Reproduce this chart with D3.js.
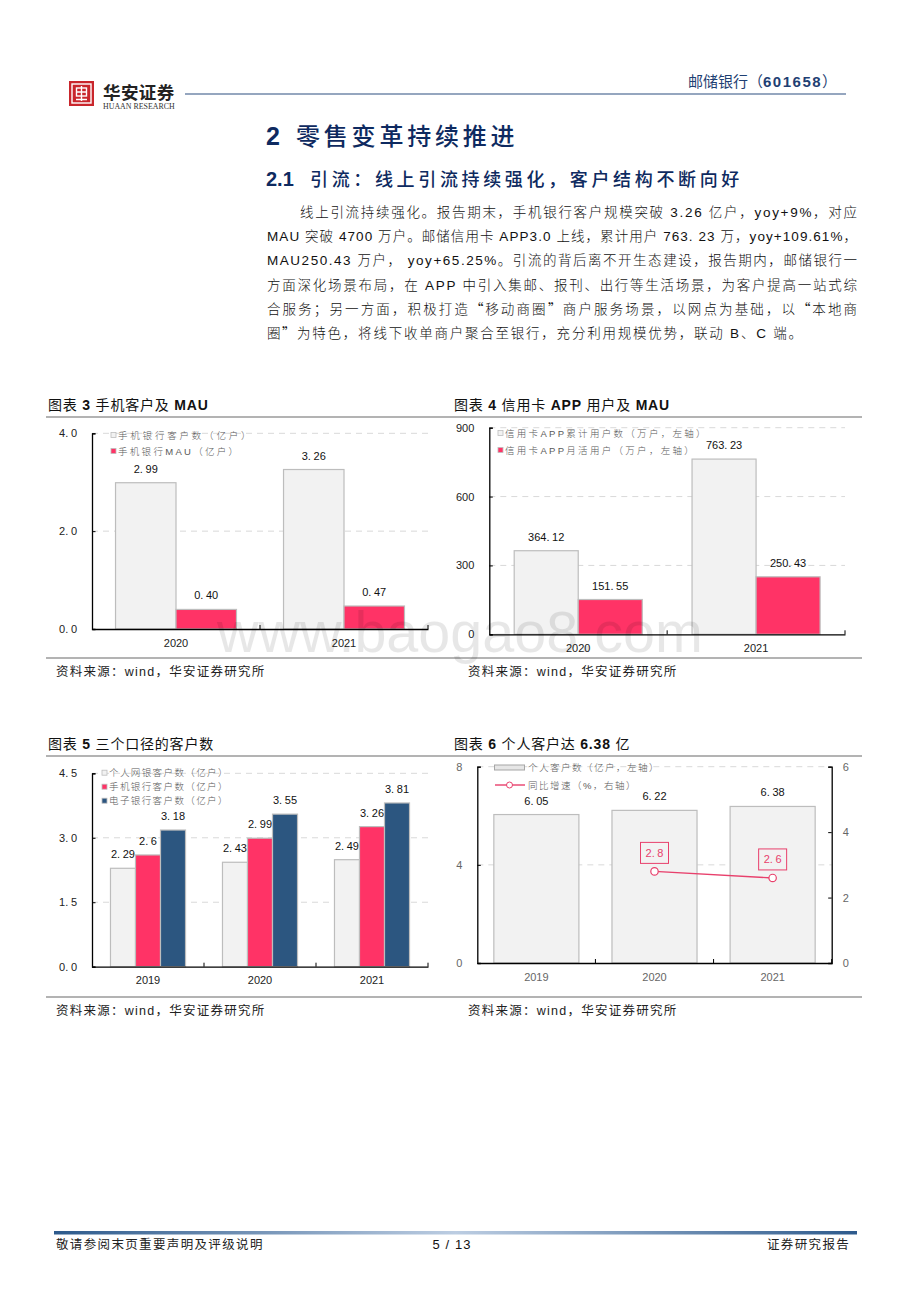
<!DOCTYPE html>
<meta charset="utf-8">
<style>
@font-face { font-family: "FullQuote"; src: local("Noto Sans CJK SC"); unicode-range: U+2018-201D; }
body { margin: 0; background: #fff; }
svg { display: block; }
text { font-family: "FullQuote", "Liberation Sans", "Noto Sans CJK SC", sans-serif; }
.num text, text.num { font-family: "Liberation Sans", sans-serif; font-size: 11px; }
.domain { stroke: #000; stroke-width: 1.3px; }
.tick line { stroke: #000; stroke-width: 1px; }
.grid { stroke: #d9d9d9; stroke-width: 1px; stroke-dasharray: 6 5; }
.legend { font-family: "Liberation Sans Narrow", "Liberation Sans", "Noto Sans CJK SC", sans-serif; font-size: 9.5px; fill: #595959; font-weight: 300; }
.rule { stroke: #9a9a9a; stroke-width: 1.5px; }
.title { font-size: 14px; letter-spacing: 0.8px; fill: #111; }
.source { font-size: 12.5px; letter-spacing: 1.25px; fill: #222; }
.body { font-size: 13.5px; fill: #111; font-weight: 300; }
</style>
<body>
<script src="https://d3js.org/d3.v7.min.js"></script>
<script>

const width = 920;
const height = 1302;

// chart 3
const phoneYears = ["2020", "2021"];
const phoneUsers = [2.99, 3.26];
const phoneMau = [0.40, 0.47];
const phoneTicks = [0, 2, 4];

// chart 4
const cardYears = ["2020", "2021"];
const cardUsers = [364.12, 763.23];
const cardMau = [151.55, 250.43];
const cardTicks = [0, 300, 600, 900];

// chart 5
const threeYears = ["2019", "2020", "2021"];
const webUsers = [2.29, 2.43, 2.49];
const mobileUsers = [2.6, 2.99, 3.26];
const ebankUsers = [3.18, 3.55, 3.81];
const threeTicks = [0, 1.5, 3, 4.5];

// chart 6
const personYears = ["2019", "2020", "2021"];
const personUsers = [6.05, 6.22, 6.38];
const personGrowth = [null, 2.8, 2.6];
const personTicks = [0, 4, 8];
const growthTicks = [0, 2, 4, 6];

// page text
const bodyLines = [
  "线上引流持续强化。报告期末，手机银行客户规模突破 3.26 亿户，yoy+9%，对应",
  "MAU 突破 4700 万户。邮储信用卡 APP3.0 上线，累计用户 763. 23 万，yoy+109.61%，",
  "MAU250.43 万户， yoy+65.25%。引流的背后离不开生态建设，报告期内，邮储银行一",
  "方面深化场景布局，在 APP 中引入集邮、报刊、出行等生活场景，为客户提高一站式综",
  "合服务；另一方面，积极打造“移动商圈”商户服务场景，以网点为基础，以“本地商",
  "圈”为特色，将线下收单商户聚合至银行，充分利用规模优势，联动 B、C 端。"
];
const sourceText = "资料来源：wind，华安证券研究所";

const grey = "#f2f2f2", pink = "#ff3366", navy = "#2c5680", barStroke = "#bdbdbd";

const svg = d3.select("body").append("svg")
    .attr("width", width)
    .attr("height", height);

const defs = svg.append("defs");
const grad = defs.append("linearGradient").attr("id", "footbar");
grad.append("stop").attr("offset", "0%").attr("stop-color", "#2d5a8c");
grad.append("stop").attr("offset", "50%").attr("stop-color", "#bccde2");
grad.append("stop").attr("offset", "100%").attr("stop-color", "#2d5a8c");

// latin runs bold, CJK runs regular
function richText(sel, str) {
  str.split(/([\x21-\x7e]+(?: [\x21-\x7e]+)*)/).forEach((part, i) => {
    if (!part) return;
    sel.append("tspan").attr("font-weight", i % 2 ? 700 : 400).text(part);
  });
}

// the source font sets decimals wide, so open a gap after the dot
function openDot(sel) {
  sel.each(function() {
    const s = this.textContent;
    if (!s.includes(".")) return;
    const parts = s.split(".");
    d3.select(this).text(parts[0] + ".").append("tspan").attr("dx", 2.6).text(parts[1]);
  });
}

function header() {
  const logo = svg.append("g").attr("transform", "translate(69,81)");
  logo.append("rect").attr("width", 25).attr("height", 25).attr("fill", "#c9262c");
  logo.append("rect").attr("x", 3).attr("y", 3).attr("width", 19).attr("height", 19)
      .attr("fill", "none").attr("stroke", "#fff").attr("stroke-width", 1.4);
  logo.append("rect").attr("x", 7.5).attr("y", 7).attr("width", 10).attr("height", 8)
      .attr("fill", "none").attr("stroke", "#fff").attr("stroke-width", 1.4);
  logo.append("path").attr("d", "M12.5 5V20M7.5 11H17.5M7 18.5H18")
      .attr("fill", "none").attr("stroke", "#fff").attr("stroke-width", 1.4);

  svg.append("text").attr("x", 103).attr("y", 99).attr("font-size", 17.5)
      .attr("font-weight", 700).attr("letter-spacing", 0.4).attr("fill", "#222").text("华安证券");
  svg.append("text").attr("x", 103).attr("y", 108.5)
      .style("font-family", "Liberation Serif").attr("font-size", 7.9).attr("fill", "#333")
      .text("HUAAN RESEARCH");

  svg.append("line").attr("x1", 185).attr("x2", 846).attr("y1", 94).attr("y2", 94)
      .attr("stroke", "#2c4f80").attr("stroke-width", 1.2);
  const code = svg.append("text").attr("x", 688).attr("y", 87).attr("font-size", 15)
      .attr("fill", "#1f3f73");
  code.append("tspan").text("邮储银行（");
  code.append("tspan").attr("font-weight", 700).attr("letter-spacing", 1.5).text("601658");
  code.append("tspan").text("）");

  svg.append("text").attr("x", 266).attr("y", 145).attr("font-size", 25).attr("font-weight", 700)
      .attr("fill", "#0e2a60").text("2");
  svg.append("text").attr("x", 296).attr("y", 145).attr("font-size", 24).attr("font-weight", 500)
      .attr("letter-spacing", 3.8).attr("fill", "#0e2a60").text("零售变革持续推进");
  svg.append("text").attr("x", 266).attr("y", 186).attr("font-size", 20).attr("font-weight", 700)
      .attr("fill", "#0e2a60").text("2.1");
  svg.append("text").attr("x", 310).attr("y", 186).attr("font-size", 18).attr("font-weight", 500)
      .attr("letter-spacing", 3.65).attr("fill", "#0e2a60").text("引流：线上引流持续强化，客户结构不断向好");

  svg.selectAll(".body").data(bodyLines).enter().append("text")
      .attr("class", "body")
      .attr("x", (d, i) => i === 0 ? 300 : 267)
      .attr("y", (d, i) => 217 + i * 24.2)
      .attr("textLength", (d, i) => i === 0 ? 557 : i === 5 ? 535 : 590)
      .attr("lengthAdjust", "spacing")
      .text(d => d);
}

function footer() {
  svg.append("rect").attr("x", 54).attr("y", 1231).attr("width", 803).attr("height", 3.5)
      .attr("fill", "url(#footbar)");
  svg.append("text").attr("x", 56).attr("y", 1249).attr("font-size", 12.5).attr("letter-spacing", 1.35)
      .attr("fill", "#222").text("敬请参阅末页重要声明及评级说明");
  svg.append("text").attr("x", 452).attr("y", 1249).attr("font-size", 13).attr("letter-spacing", 1.1)
      .attr("text-anchor", "middle").attr("fill", "#111").text("5 / 13");
  svg.append("text").attr("x", 767).attr("y", 1249).attr("font-size", 12.5).attr("letter-spacing", 1.35)
      .attr("fill", "#222").text("证券研究报告");
}

// one chart panel: title, rules, axes, grouped bars
function panel(opt) {
  const g = svg.append("g");

  const title = g.append("text").attr("class", "title").attr("x", opt.titleX).attr("y", opt.titleY);
  richText(title, opt.title);
  g.append("text").attr("class", "source").attr("x", opt.sourceX).attr("y", opt.sourceY).text(sourceText);

  const x0 = d3.scaleBand().domain(opt.years).range([opt.left, opt.right])
      .paddingInner(opt.gap).paddingOuter(opt.gap / 2);
  const y = d3.scaleLinear().domain(opt.yDomain).range([opt.bottom, opt.top]);
  const x1 = d3.scaleBand().domain(d3.range(opt.series.length)).range([0, x0.bandwidth()]);

  g.selectAll(".grid").data(opt.yTicks.filter(d => d > 0)).enter().append("line")
      .attr("class", "grid")
      .attr("x1", opt.left).attr("x2", opt.right)
      .attr("y1", d => y(d)).attr("y2", d => y(d));

  const labelFill = opt.axisText || "#222";

  opt.series.forEach((s, si) => {
    const bars = g.append("g");
    bars.selectAll("rect").data(s.values).enter().append("rect")
        .attr("x", (d, i) => x0(opt.years[i]) + x1(si))
        .attr("y", d => y(d))
        .attr("width", x1.bandwidth())
        .attr("height", d => y(0) - y(d))
        .attr("fill", s.color)
        .attr("stroke", barStroke)
        .attr("stroke-width", 1.2);
    bars.selectAll("text").data(s.values).enter().append("text")
        .attr("class", "num")
        .attr("x", (d, i) => x0(opt.years[i]) + x1(si) + x1.bandwidth() / 2)
        .attr("y", d => y(d) - 10)
        .attr("text-anchor", "middle")
        .attr("fill", "#111")
        .text(opt.format)
        .call(openDot);
  });

  const yAxis = g.append("g").attr("class", "num")
      .attr("transform", `translate(${opt.left},0)`)
      .call(d3.axisLeft(y).tickValues(opt.yTicks).tickSize(-3.5).tickPadding(15).tickFormat(opt.tickFormat));
  yAxis.selectAll("text").attr("fill", labelFill).call(openDot);

  const xAxis = g.append("g").attr("class", "num")
      .attr("transform", `translate(0,${opt.bottom})`)
      .call(d3.axisBottom(x0).tickSize(0).tickPadding(10));
  xAxis.selectAll("text").attr("fill", labelFill);

  // separators between the categories, pointing up
  const step = x0.step();
  g.selectAll(".sep").data(opt.years).enter().append("line")
      .attr("class", "sep")
      .attr("x1", (d, i) => opt.left + step * (i + 1))
      .attr("x2", (d, i) => opt.left + step * (i + 1))
      .attr("y1", opt.bottom).attr("y2", opt.bottom - 4)
      .attr("stroke", "#000");

  return { g, x0, y };
}

function legendRow(g, x, y, color, label, spacing) {
  g.append("rect").attr("x", x).attr("y", y - 2.5).attr("width", 5).attr("height", 5)
      .attr("fill", color).attr("stroke", barStroke).attr("stroke-width", 0.8);
  g.append("text").attr("class", "legend").attr("x", x + 7).attr("y", y + 3.5)
      .attr("letter-spacing", spacing).text(label);
}

header();

const c3 = panel({
  title: "图表 3 手机客户及 MAU", titleX: 48, titleY: 410, sourceX: 56, sourceY: 676,
  years: phoneYears, left: 92, right: 428, top: 433.3, bottom: 629, gap: 0.28,
  yDomain: [0, 4], yTicks: phoneTicks, tickFormat: d3.format(".1f"), format: d3.format(".2f"),
  series: [{ values: phoneUsers, color: grey }, { values: phoneMau, color: pink }]
});
legendRow(c3.g, 111, 435, grey, "手机银行客户数（亿户）", 2.8);
legendRow(c3.g, 111, 451, pink, "手机银行MAU（亿户）", 2.3);

const c4 = panel({
  title: "图表 4 信用卡 APP 用户及 MAU", titleX: 454, titleY: 410, sourceX: 468, sourceY: 676,
  years: cardYears, left: 489.3, right: 845, top: 427.7, bottom: 634.3, gap: 0.28,
  yDomain: [0, 900], yTicks: cardTicks, tickFormat: d3.format("d"), format: d3.format(".2f"),
  series: [{ values: cardUsers, color: grey }, { values: cardMau, color: pink }]
});
legendRow(c4.g, 498, 433, grey, "信用卡APP累计用户数（万户，左轴）", 2.3);
legendRow(c4.g, 498, 450, pink, "信用卡APP月活用户（万户，左轴）", 2.3);

const c5 = panel({
  title: "图表 5 三个口径的客户数", titleX: 48, titleY: 749, sourceX: 56, sourceY: 1015,
  years: threeYears, left: 92, right: 428, top: 773.3, bottom: 966.7, gap: 0.33,
  yDomain: [0, 4.5], yTicks: threeTicks, tickFormat: d3.format(".1f"), format: d3.format(".3~r"),
  series: [{ values: webUsers, color: grey }, { values: mobileUsers, color: pink }, { values: ebankUsers, color: navy }]
});
legendRow(c5.g, 102, 772.7, grey, "个人网银客户数（亿户）", 1.4);
legendRow(c5.g, 102, 786.7, pink, "手机银行客户数（亿户）", 1.4);
legendRow(c5.g, 102, 800.7, navy, "电子银行客户数（亿户）", 1.4);

const c6 = panel({
  title: "图表 6 个人客户达 6.38 亿", titleX: 454, titleY: 749, sourceX: 468, sourceY: 1015,
  years: personYears, left: 477.3, right: 831.7, top: 766.7, bottom: 963, gap: 0.28,
  yDomain: [0, 8], yTicks: personTicks, tickFormat: d3.format("d"), format: d3.format(".2f"),
  axisText: "#666",
  series: [{ values: personUsers, color: grey }]
});

// right axis and growth line of chart 6
const yRight = d3.scaleLinear().domain([0, 6]).range([963, 766.7]);
const rightAxis = c6.g.append("g").attr("class", "num")
    .attr("transform", "translate(831.7,0)")
    .call(d3.axisRight(yRight).tickValues(growthTicks).tickSize(-3.5).tickPadding(11).tickFormat(d3.format("d")));
rightAxis.selectAll("text").attr("fill", "#666");

const linePink = "#e8406c";
const growthPts = personGrowth.map((v, i) => ({ v, year: personYears[i] })).filter(d => d.v != null);
const cx = d => c6.x0(d.year) + c6.x0.bandwidth() / 2;
c6.g.append("path").datum(growthPts)
    .attr("fill", "none").attr("stroke", linePink).attr("stroke-width", 1.4)
    .attr("d", d3.line().x(cx).y(d => yRight(d.v)));
c6.g.selectAll(".pt").data(growthPts).enter().append("circle")
    .attr("class", "pt").attr("cx", cx).attr("cy", d => yRight(d.v)).attr("r", 3.7)
    .attr("fill", "#fff").attr("stroke", linePink).attr("stroke-width", 1.2);
c6.g.selectAll(".boxlab").data(growthPts).enter().append("rect")
    .attr("class", "boxlab").attr("x", d => cx(d) - 14).attr("y", d => yRight(d.v) - 29)
    .attr("width", 28).attr("height", 21)
    .attr("fill", "none").attr("stroke", linePink).attr("stroke-width", 1);
c6.g.selectAll(".boxtxt").data(growthPts).enter().append("text")
    .attr("class", "num boxtxt").attr("x", cx).attr("y", d => yRight(d.v) - 14.5)
    .attr("text-anchor", "middle").attr("fill", linePink).text(d => d.v.toFixed(1))
    .call(openDot);

// chart 6 legend
c6.g.append("rect").attr("x", 494.5).attr("y", 765).attr("width", 30).attr("height", 5)
    .attr("fill", "#e6e6e6").attr("stroke", "#a6a6a6");
c6.g.append("text").attr("class", "legend").attr("x", 528).attr("y", 771)
    .attr("letter-spacing", 1.5).text("个人客户数（亿户，左轴）");
c6.g.append("line").attr("x1", 495).attr("x2", 525).attr("y1", 785).attr("y2", 785)
    .attr("stroke", linePink).attr("stroke-width", 1.4);
c6.g.append("circle").attr("cx", 509.5).attr("cy", 785).attr("r", 3)
    .attr("fill", "#fff").attr("stroke", linePink);
c6.g.append("text").attr("class", "legend").attr("x", 528).attr("y", 788.5)
    .attr("letter-spacing", 1.5).text("同比增速（%，右轴）");

// panel rules
svg.selectAll(".rule").data([417, 658, 756, 997]).enter().append("line")
    .attr("class", "rule").attr("x1", 46).attr("x2", 862)
    .attr("y1", d => d).attr("y2", d => d);

footer();

// watermark across the page
svg.append("text").attr("x", 217).attr("y", 652).attr("font-size", 57.5)
    .attr("fill", "#000").attr("opacity", 0.09).text("www.baogao8.com");

</script>
</body>
